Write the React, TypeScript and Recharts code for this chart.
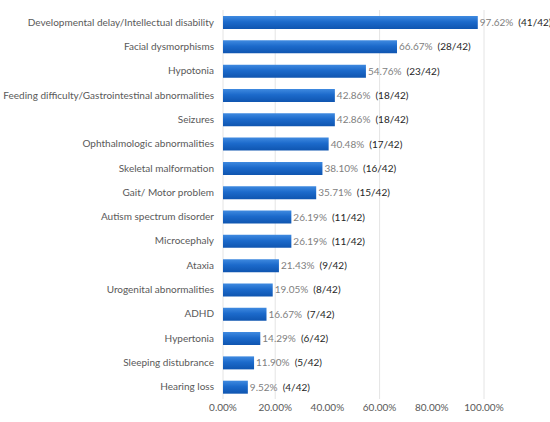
import React from "react";
import { BarChart, Bar, XAxis, YAxis, CartesianGrid, LabelList } from "recharts";

const CATEGORIES = [
  "Developmental delay/Intellectual disability",
  "Facial dysmorphisms",
  "Hypotonia",
  "Feeding difficulty/Gastrointestinal abnormalities",
  "Seizures",
  "Ophthalmologic abnormalities",
  "Skeletal malformation",
  "Gait/ Motor problem",
  "Autism spectrum disorder",
  "Microcephaly",
  "Ataxia",
  "Urogenital abnormalities",
  "ADHD",
  "Hypertonia",
  "Sleeping distubrance",
  "Hearing loss",
];
const PERCENTS = [97.62, 66.67, 54.76, 42.86, 42.86, 40.48, 38.1, 35.71, 26.19, 26.19, 21.43, 19.05, 16.67, 14.29, 11.9, 9.52];
const COUNTS = [41, 28, 23, 18, 18, 17, 16, 15, 11, 11, 9, 8, 7, 6, 5, 4];
const TOTAL = 42;
const X_TICKS = [0, 20, 40, 60, 80, 100];

const FONT = "Lato, 'Open Sans', sans-serif";

const data = CATEGORIES.map((name, i) => ({ name, value: PERCENTS[i], count: COUNTS[i] }));

function CategoryTick(props: any) {
  const { x, y, payload } = props;
  return (
    <text x={x} y={y} dy="0.35em" textAnchor="end" fill="#595959" fontSize={10} fontFamily={FONT}>
      {payload.value}
    </text>
  );
}

function ValueLabel(props: any) {
  const { x, y, width, height, index } = props;
  const d = data[index];
  const cy = y + height / 2;
  return (
    <text x={x + width + 2} y={cy} dy="0.35em" fontSize={10} fontFamily={FONT}>
      <tspan fill="#808080">{d.value.toFixed(2)}%</tspan>
      <tspan fill="#262626" dx={5}>({d.count}/{TOTAL})</tspan>
    </text>
  );
}

export default function App() {
  return (
    <div style={{ position: "absolute", left: 0, top: 0, background: "#fff" }}>
      <BarChart
        width={550}
        height={422}
        data={data}
        layout="vertical"
        margin={{ top: 10, right: 66, bottom: 0, left: 0 }}
      >
        <defs>
          <linearGradient id="barFill" x1="0" y1="0" x2="0" y2="1">
            <stop offset="0%" stopColor="#3f8ae0" />
            <stop offset="45%" stopColor="#1c6acb" />
            <stop offset="100%" stopColor="#0f55b0" />
          </linearGradient>
        </defs>
        <CartesianGrid horizontal={false} stroke="#e4e4e4" />
        <XAxis
          type="number"
          domain={[0, 100]}
          ticks={X_TICKS}
          tickFormatter={(v: number) => `${v.toFixed(2)}%`}
          axisLine={false}
          tickLine={false}
          tickSize={0}
          tickMargin={5}
          height={23}
          tick={{ fill: "#595959", fontSize: 10, fontFamily: FONT }}
        />
        <YAxis
          type="category"
          dataKey="name"
          width={223}
          axisLine={false}
          tickLine={false}
          tickSize={0}
          tickMargin={9}
          interval={0}
          tick={<CategoryTick />}
        />
        <Bar dataKey="value" fill="url(#barFill)" barSize={13} isAnimationActive={false}>
          <LabelList dataKey="value" content={<ValueLabel />} />
        </Bar>
      </BarChart>
    </div>
  );
}
